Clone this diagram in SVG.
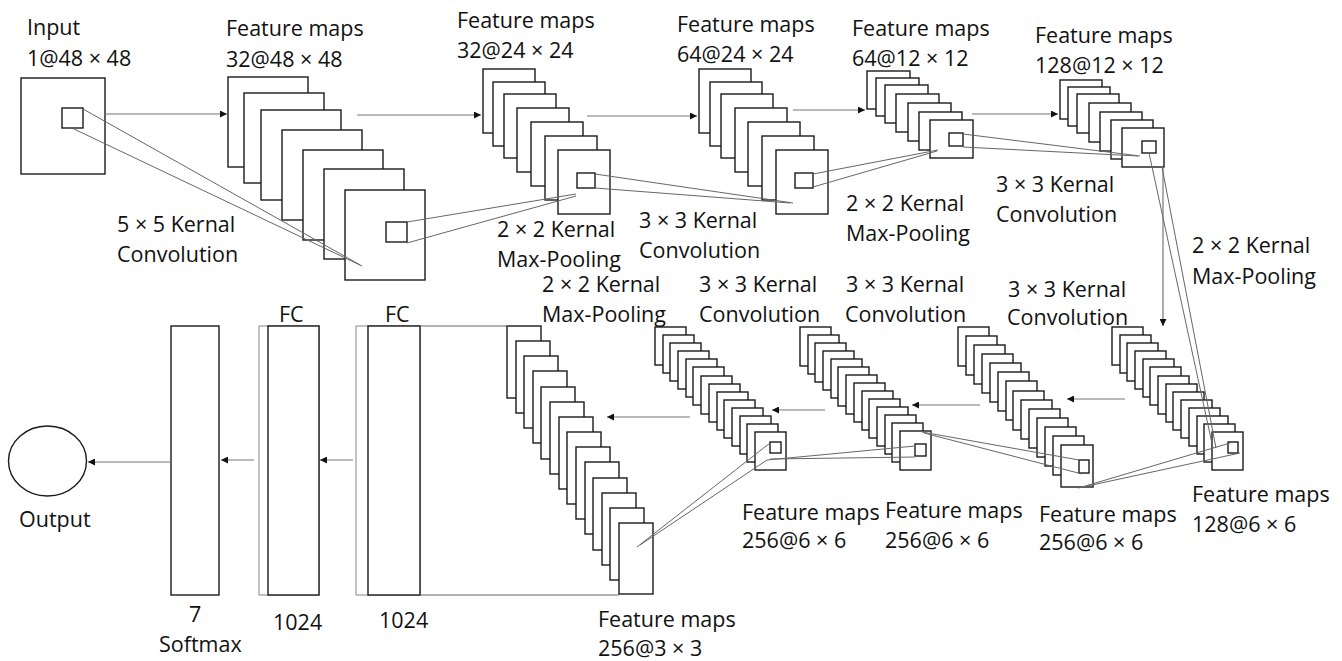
<svg xmlns="http://www.w3.org/2000/svg" width="1342" height="661" viewBox="0 0 1342 661">
<defs>
<marker id="ah" viewBox="0 0 10 10" refX="10" refY="5" markerWidth="8" markerHeight="7" orient="auto" markerUnits="userSpaceOnUse"><path d="M0,0 L10,5 L0,10 z" fill="#111"/></marker>
<style>
.m{fill:#fff;stroke:#1a1a1a;stroke-width:1.4}
.k{fill:none;stroke:#1a1a1a;stroke-width:1.4}
.b{fill:#fff;stroke:#888;stroke-width:1}
.c{fill:none;stroke:#666;stroke-width:1}
.a{fill:none;stroke:#777;stroke-width:1.2;marker-end:url(#ah)}
text{font-family:"Open Sans","Liberation Sans",sans-serif;font-size:21.5px;fill:#111}
</style>
</defs>
<rect width="1342" height="661" fill="#fff"/>

<g id="input">
<rect class="m" x="21" y="78" width="84" height="96"/>
<rect class="k" x="62" y="108" width="21" height="20"/>
<text x="27" y="35">Input</text>
<text x="27" y="66">1@48 × 48</text>
</g>

<g id="fm1">
<rect class="m" x="228" y="77" width="80" height="90"/>
<rect class="m" x="244" y="93" width="80" height="90"/>
<rect class="m" x="261" y="110" width="80" height="90"/>
<rect class="m" x="282" y="130" width="80" height="90"/>
<rect class="m" x="303" y="150" width="80" height="90"/>
<rect class="m" x="324" y="169" width="80" height="90"/>
<rect class="m" x="345" y="190" width="80" height="90"/>
<rect class="k" x="386" y="222" width="21" height="20"/>
<text x="226" y="36">Feature maps</text>
<text x="226" y="67">32@48 × 48</text>
</g>

<g id="fm2">
<rect class="m" x="483" y="69" width="52" height="64"/>
<rect class="m" x="493" y="82" width="52" height="64"/>
<rect class="m" x="504" y="94" width="52" height="64"/>
<rect class="m" x="517" y="108" width="52" height="64"/>
<rect class="m" x="531" y="122" width="52" height="64"/>
<rect class="m" x="545" y="136" width="52" height="64"/>
<rect class="m" x="558" y="150" width="52" height="64"/>
<rect class="k" x="577" y="173" width="18" height="15"/>
<text x="457" y="28">Feature maps</text>
<text x="457" y="58">32@24 × 24</text>
</g>

<g id="fm3">
<rect class="m" x="699" y="69" width="52" height="64"/>
<rect class="m" x="710" y="82" width="52" height="64"/>
<rect class="m" x="721" y="94" width="52" height="64"/>
<rect class="m" x="735" y="108" width="52" height="64"/>
<rect class="m" x="748" y="122" width="52" height="64"/>
<rect class="m" x="762" y="136" width="52" height="64"/>
<rect class="m" x="776" y="150" width="52" height="64"/>
<rect class="k" x="795" y="173" width="18" height="15"/>
<text x="677" y="32">Feature maps</text>
<text x="677" y="62">64@24 × 24</text>
</g>

<g id="fm4">
<rect class="m" x="867" y="71" width="43" height="38"/>
<rect class="m" x="876" y="78" width="43" height="38"/>
<rect class="m" x="885" y="85" width="43" height="38"/>
<rect class="m" x="896" y="94" width="43" height="38"/>
<rect class="m" x="908" y="103" width="43" height="38"/>
<rect class="m" x="919" y="112" width="43" height="38"/>
<rect class="m" x="930" y="120" width="43" height="38"/>
<rect class="k" x="949" y="133" width="14" height="13"/>
<text x="852" y="36">Feature maps</text>
<text x="852" y="66">64@12 × 12</text>
</g>

<g id="fm5">
<rect class="m" x="1060" y="80" width="42" height="39"/>
<rect class="m" x="1068" y="87" width="42" height="39"/>
<rect class="m" x="1077" y="94" width="42" height="39"/>
<rect class="m" x="1089" y="103" width="42" height="39"/>
<rect class="m" x="1100" y="112" width="42" height="39"/>
<rect class="m" x="1111" y="120" width="42" height="39"/>
<rect class="m" x="1122" y="128" width="42" height="39"/>
<rect class="k" x="1142" y="141" width="14" height="12"/>
<text x="1035" y="43">Feature maps</text>
<text x="1035" y="73">128@12 × 12</text>
</g>

<g id="fm6">
<rect class="m" x="1112" y="327" width="31" height="38"/>
<rect class="m" x="1120" y="335" width="31" height="38"/>
<rect class="m" x="1127" y="343" width="31" height="38"/>
<rect class="m" x="1135" y="351" width="31" height="38"/>
<rect class="m" x="1143" y="359" width="31" height="38"/>
<rect class="m" x="1150" y="367" width="31" height="38"/>
<rect class="m" x="1158" y="376" width="31" height="38"/>
<rect class="m" x="1166" y="384" width="31" height="38"/>
<rect class="m" x="1173" y="392" width="31" height="38"/>
<rect class="m" x="1181" y="400" width="31" height="38"/>
<rect class="m" x="1189" y="408" width="31" height="38"/>
<rect class="m" x="1197" y="416" width="31" height="38"/>
<rect class="m" x="1204" y="424" width="31" height="38"/>
<rect class="m" x="1212" y="432" width="31" height="38"/>
<rect class="k" x="1228" y="442" width="10" height="11"/>
<text x="1192" y="502">Feature maps</text>
<text x="1192" y="532">128@6 × 6</text>
</g>

<g id="fm7">
<rect class="m" x="958" y="327" width="31" height="39"/>
<rect class="m" x="966" y="336" width="31" height="39"/>
<rect class="m" x="974" y="345" width="31" height="39"/>
<rect class="m" x="982" y="354" width="31" height="39"/>
<rect class="m" x="990" y="363" width="31" height="39"/>
<rect class="m" x="998" y="372" width="31" height="39"/>
<rect class="m" x="1006" y="381" width="31" height="39"/>
<rect class="m" x="1013" y="391" width="31" height="39"/>
<rect class="m" x="1021" y="400" width="31" height="39"/>
<rect class="m" x="1029" y="409" width="31" height="39"/>
<rect class="m" x="1037" y="418" width="31" height="39"/>
<rect class="m" x="1045" y="427" width="31" height="39"/>
<rect class="m" x="1053" y="436" width="31" height="39"/>
<rect class="m" x="1061" y="445" width="32" height="42"/>
<rect class="k" x="1079" y="460" width="10" height="13"/>
<text x="1039" y="522">Feature maps</text>
<text x="1039" y="550">256@6 × 6</text>
</g>

<g id="fm8">
<rect class="m" x="800" y="327" width="31" height="39"/>
<rect class="m" x="808" y="335" width="31" height="39"/>
<rect class="m" x="815" y="343" width="31" height="39"/>
<rect class="m" x="823" y="351" width="31" height="39"/>
<rect class="m" x="831" y="359" width="31" height="39"/>
<rect class="m" x="838" y="367" width="31" height="39"/>
<rect class="m" x="846" y="375" width="31" height="39"/>
<rect class="m" x="854" y="383" width="31" height="39"/>
<rect class="m" x="862" y="391" width="31" height="39"/>
<rect class="m" x="869" y="399" width="31" height="39"/>
<rect class="m" x="877" y="407" width="31" height="39"/>
<rect class="m" x="885" y="415" width="31" height="39"/>
<rect class="m" x="892" y="423" width="31" height="39"/>
<rect class="m" x="900" y="431" width="31" height="39"/>
<rect class="k" x="915" y="444" width="11" height="12"/>
<text x="885" y="518">Feature maps</text>
<text x="885" y="548">256@6 × 6</text>
</g>

<g id="fm9">
<rect class="m" x="655" y="327" width="31" height="38"/>
<rect class="m" x="663" y="335" width="31" height="38"/>
<rect class="m" x="670" y="343" width="31" height="38"/>
<rect class="m" x="678" y="351" width="31" height="38"/>
<rect class="m" x="686" y="359" width="31" height="38"/>
<rect class="m" x="693" y="367" width="31" height="38"/>
<rect class="m" x="701" y="376" width="31" height="38"/>
<rect class="m" x="709" y="384" width="31" height="38"/>
<rect class="m" x="717" y="392" width="31" height="38"/>
<rect class="m" x="724" y="400" width="31" height="38"/>
<rect class="m" x="732" y="408" width="31" height="38"/>
<rect class="m" x="740" y="416" width="31" height="38"/>
<rect class="m" x="747" y="424" width="31" height="38"/>
<rect class="m" x="755" y="432" width="31" height="38"/>
<rect class="k" x="770" y="442" width="11" height="11"/>
<text x="742" y="520">Feature maps</text>
<text x="742" y="548">256@6 × 6</text>
</g>

<g id="fm10">
<rect class="m" x="507" y="326" width="34" height="72"/>
<rect class="m" x="516" y="341" width="34" height="72"/>
<rect class="m" x="524" y="356" width="34" height="72"/>
<rect class="m" x="533" y="371" width="34" height="72"/>
<rect class="m" x="541" y="387" width="34" height="72"/>
<rect class="m" x="550" y="402" width="34" height="72"/>
<rect class="m" x="559" y="417" width="34" height="72"/>
<rect class="m" x="567" y="432" width="34" height="72"/>
<rect class="m" x="576" y="447" width="34" height="72"/>
<rect class="m" x="585" y="462" width="34" height="72"/>
<rect class="m" x="593" y="478" width="34" height="72"/>
<rect class="m" x="602" y="493" width="34" height="72"/>
<rect class="m" x="610" y="508" width="34" height="72"/>
<rect class="m" x="619" y="523" width="34" height="71"/>
<text x="598" y="627">Feature maps</text>
<text x="598" y="656">256@3 × 3</text>
</g>

<g id="fc2">
<rect class="b" x="356" y="326" width="64" height="269"/>
<rect class="m" x="368" y="326" width="52" height="269"/>
<text x="385" y="322">FC</text>
<text x="379" y="628">1024</text>
</g>

<g id="fc1">
<rect class="b" x="259" y="326" width="60" height="269"/>
<rect class="m" x="268" y="326" width="51" height="269"/>
<text x="279" y="322">FC</text>
<text x="273" y="630">1024</text>
</g>

<g id="softmax">
<rect class="m" x="171" y="326" width="48" height="269"/>
<text x="189" y="622">7</text>
<text x="159" y="652">Softmax</text>
</g>

<g id="output">
<ellipse class="m" cx="47.5" cy="461" rx="39" ry="35"/>
<text x="19" y="527">Output</text>
</g>

<g id="labels">
<text x="117" y="232">5 × 5 Kernal</text>
<text x="117" y="262">Convolution</text>
<text x="497" y="237">2 × 2 Kernal</text>
<text x="497" y="267">Max-Pooling</text>
<text x="639" y="228">3 × 3 Kernal</text>
<text x="639" y="258">Convolution</text>
<text x="846" y="211">2 × 2 Kernal</text>
<text x="846" y="241">Max-Pooling</text>
<text x="996" y="192">3 × 3 Kernal</text>
<text x="996" y="222">Convolution</text>
<text x="1192" y="253">2 × 2 Kernal</text>
<text x="1192" y="284">Max-Pooling</text>
<text x="542" y="292">2 × 2 Kernal</text>
<text x="542" y="322">Max-Pooling</text>
<text x="699" y="292">3 × 3 Kernal</text>
<text x="699" y="322">Convolution</text>
<text x="846" y="292">3 × 3 Kernal</text>
<text x="845" y="322">Convolution</text>
<text x="1008" y="297">3 × 3 Kernal</text>
<text x="1007" y="325">Convolution</text>
</g>

<g id="connectors">
<line class="a" x1="105" y1="114" x2="227" y2="114"/>
<line class="a" x1="357" y1="115" x2="481" y2="115"/>
<line class="a" x1="587" y1="116" x2="697" y2="116"/>
<line class="a" x1="793" y1="110" x2="865" y2="110"/>
<line class="a" x1="972" y1="114" x2="1058" y2="114"/>
<line class="a" x1="1163" y1="167" x2="1163" y2="326"/>
<line class="a" x1="1125" y1="399" x2="1067" y2="399"/>
<line class="a" x1="980" y1="405" x2="912" y2="405"/>
<line class="a" x1="825" y1="410" x2="772" y2="410"/>
<line class="a" x1="690" y1="417" x2="607" y2="417"/>
<line class="a" x1="353" y1="460" x2="320" y2="460"/>
<line class="a" x1="254" y1="460" x2="221" y2="460"/>
<line class="a" x1="171" y1="462" x2="88" y2="462"/>
<line class="c" x1="420" y1="326" x2="507" y2="326"/>
<line class="c" x1="420" y1="595" x2="619" y2="595"/>
<line class="c" x1="83" y1="109" x2="362" y2="266"/>
<line class="c" x1="74" y1="129" x2="360" y2="265"/>
<line class="c" x1="407" y1="222" x2="576" y2="194"/>
<line class="c" x1="407" y1="243" x2="576" y2="196"/>
<line class="c" x1="595" y1="174" x2="793" y2="203"/>
<line class="c" x1="595" y1="188" x2="790" y2="203"/>
<line class="c" x1="813" y1="174" x2="938" y2="150"/>
<line class="c" x1="813" y1="187" x2="937" y2="151"/>
<line class="c" x1="963" y1="134" x2="1140" y2="156"/>
<line class="c" x1="963" y1="147" x2="1138" y2="156"/>
<line class="c" x1="1149" y1="153" x2="1213" y2="448"/>
<line class="c" x1="1162" y1="167" x2="1216" y2="448"/>
<line class="c" x1="1230" y1="443" x2="1082" y2="487"/>
<line class="c" x1="1240" y1="453" x2="1078" y2="488"/>
<line class="c" x1="1079" y1="460" x2="922" y2="432"/>
<line class="c" x1="1082" y1="474" x2="924" y2="433"/>
<line class="c" x1="915" y1="446" x2="767" y2="460"/>
<line class="c" x1="915" y1="457" x2="770" y2="459"/>
<line class="c" x1="770" y1="443" x2="637" y2="547"/>
<line class="c" x1="767" y1="460" x2="640" y2="545"/>
</g>
</svg>
